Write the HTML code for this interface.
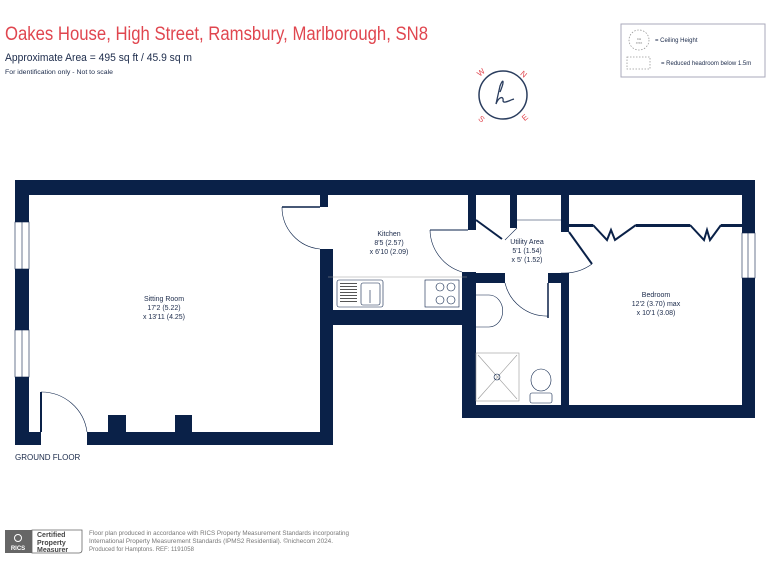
<!DOCTYPE html>
<html><head><meta charset="utf-8"><style>
html,body{margin:0;padding:0;background:#fff;width:768px;height:576px;overflow:hidden}
svg{display:block;font-family:"Liberation Sans",sans-serif}
</style></head><body>
<svg width="768" height="576" viewBox="0 0 768 576" xmlns="http://www.w3.org/2000/svg">
<text x="5" y="40" font-size="19" fill="#e0464f" textLength="423" lengthAdjust="spacingAndGlyphs">Oakes House, High Street, Ramsbury, Marlborough, SN8</text>
<text x="5" y="61" font-size="11" fill="#1b2a4a" textLength="187" lengthAdjust="spacingAndGlyphs">Approximate Area = 495 sq ft / 45.9 sq m</text>
<text x="5" y="74" font-size="6.5" fill="#1b2a4a" textLength="108" lengthAdjust="spacingAndGlyphs">For identification only - Not to scale</text>
<rect x="621" y="24" width="144" height="53" fill="#fff" stroke="#aab" stroke-width="1"/>
<circle cx="639" cy="40" r="10" fill="none" stroke="#999" stroke-dasharray="1.5,1.5" stroke-width="0.8"/>
<text x="639" y="40" font-size="3" fill="#777" text-anchor="middle">CH</text>
<text x="639" y="44" font-size="3" fill="#777" text-anchor="middle">X'XX</text>
<text x="655" y="42" font-size="6" fill="#1b2a4a">= Ceiling Height</text>
<rect x="627" y="57" width="23" height="12" fill="none" stroke="#999" stroke-dasharray="1.5,1.5" stroke-width="0.8"/>
<text x="661" y="65" font-size="6" fill="#1b2a4a">= Reduced headroom below 1.5m</text>
<circle cx="503" cy="95" r="24" fill="none" stroke="#2a3d5e" stroke-width="1.5"/>
<path d="M500 92 C505 80 503 78 500 86 L496 104 C499 96 504 96 503 101 C504 104 510 100 514 99" fill="none" stroke="#2a3d5e" stroke-width="1.3"/>
<text x="478" y="76" font-size="8" fill="#e0464f" transform="rotate(-40 480 74)">W</text>
<text x="521" y="77" font-size="8" fill="#e0464f" transform="rotate(40 524 74)">N</text>
<text x="479" y="122" font-size="8" fill="#e0464f" transform="rotate(40 482 119)">S</text>
<text x="522" y="120" font-size="8" fill="#e0464f" transform="rotate(-40 525 117)">E</text>
<g fill="#0a2148">
<rect x="15" y="180" width="740" height="15"/>
<rect x="15" y="180" width="14" height="265"/>
<rect x="15" y="432" width="26" height="13"/>
<rect x="87" y="432" width="246" height="13"/>
<rect x="108" y="415" width="18" height="17"/>
<rect x="175" y="415" width="17" height="17"/>
<rect x="320" y="249" width="13" height="196"/>
<rect x="320" y="195" width="8" height="12"/>
<rect x="320" y="310" width="156" height="15"/>
<rect x="462" y="272" width="14" height="146"/>
<rect x="462" y="405" width="293" height="13"/>
<rect x="742" y="180" width="13" height="238"/>
<rect x="468" y="195" width="8" height="35"/>
<rect x="510" y="195" width="7" height="33"/>
<rect x="561" y="195" width="8" height="37"/>
<rect x="561" y="273" width="8" height="145"/>
<rect x="462" y="273" width="43" height="10"/>
<rect x="548" y="273" width="21" height="10"/>
<rect x="569" y="224" width="24" height="3"/>
<rect x="636" y="224" width="54" height="3"/>
<rect x="721" y="224" width="21" height="3"/>
</g>
<g fill="#fff" stroke="#0a2148" stroke-width="0.6">
<rect x="15" y="222" width="14" height="47"/>
<rect x="15" y="330" width="14" height="47"/>
<rect x="742" y="233" width="13" height="45"/>
<rect x="126" y="415" width="49" height="17" stroke="none"/>
</g>
<g stroke="#0a2148" stroke-width="0.6" fill="none">
<line x1="22" y1="222" x2="22" y2="269"/><line x1="22" y1="330" x2="22" y2="377"/><line x1="748" y1="233" x2="748" y2="278"/>
<line x1="41" y1="392" x2="41" y2="432" stroke-width="2"/>
<path d="M41 392 A46 46 0 0 1 87 432"/>
<line x1="282" y1="207" x2="320" y2="207" stroke-width="1.5"/>
<path d="M282 207 A42 42 0 0 0 320 249"/>
<path d="M430 230 A45 45 0 0 0 462 272"/>
<line x1="430" y1="230" x2="468" y2="230" stroke-width="1"/>
<path d="M505 283 A43 43 0 0 0 548 316"/>
<line x1="548" y1="283" x2="548" y2="318" stroke-width="1.5"/>
<line x1="517" y1="220" x2="561" y2="220"/>
<line x1="476" y1="220" x2="502" y2="239" stroke-width="2"/>
<line x1="517" y1="228" x2="505" y2="240"/>
<line x1="569" y1="232" x2="592" y2="264" stroke-width="2"/>
<path d="M592 264 A48 48 0 0 1 561 273"/>
<polyline points="593,225 607,240 611,230 615,240 636,225" stroke-width="2"/>
<polyline points="690,225 704,240 707,230 710,240 721,225" stroke-width="2"/>
<line x1="328" y1="277" x2="467" y2="277" stroke="#999"/>
<rect x="337" y="280" width="46" height="27" rx="2"/>
<rect x="361" y="283" width="19" height="22" rx="2"/>
<line x1="370" y1="290" x2="370" y2="303"/>
<rect x="425" y="280" width="34" height="27"/>
<circle cx="440" cy="287" r="4"/><circle cx="451" cy="287" r="4"/><circle cx="440" cy="300" r="4"/><circle cx="451" cy="300" r="4"/>
<path d="M476 295 L489 295 A12 14 0 0 1 489 327 L476 327"/>
<rect x="476" y="353" width="43" height="48" stroke="#999"/>
<line x1="478" y1="355" x2="517" y2="399" stroke="#999"/><line x1="517" y1="355" x2="478" y2="399" stroke="#999"/>
<circle cx="497" cy="377" r="3"/>
<ellipse cx="541" cy="380" rx="10" ry="11"/>
<rect x="530" y="393" width="22" height="10" rx="2"/>
</g>
<g fill="#555"><rect x="340" y="283" width="17" height="1"/><rect x="340" y="286" width="17" height="1"/><rect x="340" y="289" width="17" height="1"/><rect x="340" y="292" width="17" height="1"/><rect x="340" y="295" width="17" height="1"/><rect x="340" y="298" width="17" height="1"/><rect x="340" y="301" width="17" height="1"/></g>
<g font-size="7" fill="#1b2a4a" text-anchor="middle">
<text x="164" y="301">Sitting Room</text><text x="164" y="310">17'2 (5.22)</text><text x="164" y="319">x 13'11 (4.25)</text>
<text x="389" y="236">Kitchen</text><text x="389" y="245">8'5 (2.57)</text><text x="389" y="254">x 6'10 (2.09)</text>
<text x="527" y="244">Utility Area</text><text x="527" y="253">5'1 (1.54)</text><text x="527" y="262">x 5' (1.52)</text>
<text x="656" y="297">Bedroom</text><text x="656" y="306">12'2 (3.70) max</text><text x="656" y="315">x 10'1 (3.08)</text>
</g>
<text x="15" y="460" font-size="8" fill="#1b2a4a">GROUND FLOOR</text>
<rect x="5" y="530" width="27" height="23" fill="#666"/>
<text x="18" y="550" font-size="6" fill="#fff" text-anchor="middle" font-weight="bold">RICS</text>
<circle cx="18" cy="538" r="3.5" fill="none" stroke="#fff" stroke-width="1"/>
<path d="M32 530 H82 V550 Q82 553 79 553 H32 Z" fill="#fff" stroke="#666" stroke-width="0.8"/>
<g font-size="7" fill="#444" font-weight="bold"><text x="37" y="537">Certified</text><text x="37" y="545">Property</text><text x="37" y="552">Measurer</text></g>
<g font-size="6" fill="#777"><text x="89" y="535" textLength="260" lengthAdjust="spacingAndGlyphs">Floor plan produced in accordance with RICS Property Measurement Standards incorporating</text><text x="89" y="543" textLength="244" lengthAdjust="spacingAndGlyphs">International Property Measurement Standards (IPMS2 Residential).  ©nichecom 2024.</text><text x="89" y="551">Produced for Hamptons.  REF: 1191058</text></g>
</svg>
</body></html>
